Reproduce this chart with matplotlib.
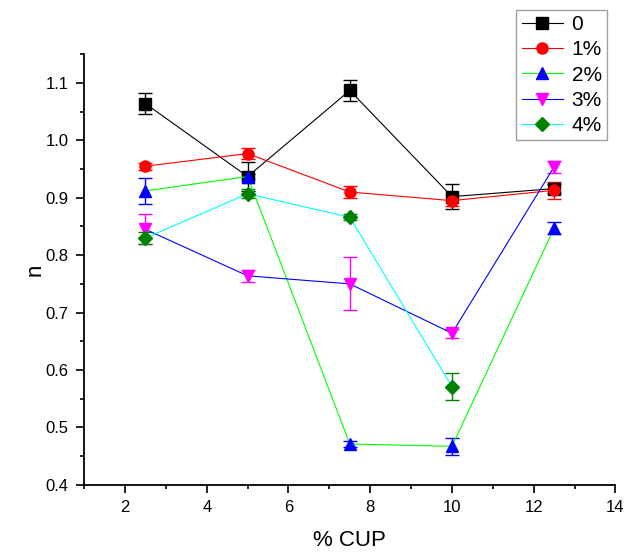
import matplotlib
matplotlib.use("Agg")
import matplotlib.pyplot as plt
from matplotlib.ticker import MultipleLocator

plt.rcParams["font.family"] = ["Liberation Sans", "DejaVu Sans"]

x = [2.5, 5, 7.5, 10, 12.5]
labels = ["0", "1%", "2%", "3%", "4%"]

n_0 = [1.064, 0.937, 1.087, 0.902, 0.916]
e_0 = [0.018, 0.025, 0.018, 0.022, 0.008]
n_1 = [0.955, 0.977, 0.910, 0.895, 0.913]
e_1 = [0.006, 0.010, 0.010, 0.010, 0.015]
n_2 = [0.912, 0.937, 0.471, 0.467, 0.847]
e_2 = [0.022, 0.005, 0.005, 0.015, 0.010]
n_3 = [0.845, 0.764, 0.750, 0.664, 0.954]
e_3 = [0.026, 0.010, 0.046, 0.008, 0.010]
x_4 = [2.5, 5, 7.5, 10]
n_4 = [0.830, 0.907, 0.866, 0.571]
e_4 = [0.010, 0.008, 0.005, 0.023]

series = [
    (x, n_0, e_0, "black", "black", "s"),
    (x, n_1, e_1, "red", "red", "o"),
    (x, n_2, e_2, "#00ff00", "blue", "^"),
    (x, n_3, e_3, "blue", "magenta", "v"),
    (x_4, n_4, e_4, "cyan", "green", "D"),
]

fig = plt.figure(figsize=(6.28, 5.54), dpi=100)
ax = fig.add_axes([0.134, 0.125, 0.846, 0.777])

handles = []
for (xs, ys, es, lc, mc, mk), lab in zip(series, labels):
    ax.errorbar(xs, ys, yerr=es, fmt="none", ecolor=mc, elinewidth=1.0,
                capsize=5, capthick=1.0, zorder=3)
    h, = ax.plot(xs, ys, color=lc, lw=0.8, marker=mk, ms=8 if mk != "D" else 7,
                 mfc=mc, mec=mc, label=lab, zorder=4)
    handles.append(h)

ax.set_xlim(1, 14)
ax.set_ylim(0.4, 1.15)
ax.xaxis.set_major_locator(MultipleLocator(2))
ax.xaxis.set_minor_locator(MultipleLocator(1))
ax.yaxis.set_minor_locator(MultipleLocator(0.05))
ax.set_yticks([0.4, 0.5, 0.6, 0.7, 0.8, 0.9, 1.0, 1.1])
ax.tick_params(which="major", direction="out", length=6, width=1.2, labelsize=12, pad=5)
ax.tick_params(which="minor", direction="out", length=3, width=1.2)
ax.spines["top"].set_visible(False)
ax.spines["right"].set_visible(False)
ax.spines["left"].set_linewidth(1.3)
ax.spines["bottom"].set_linewidth(1.3)

ax.set_xlabel("% CUP", fontsize=16, labelpad=11)
ax.set_ylabel("n", fontsize=16, labelpad=0)

leg = fig.legend(handles=handles, loc="upper right", bbox_to_anchor=(0.9666, 0.982),
                 borderaxespad=0, fontsize=15, frameon=True, fancybox=False,
                 edgecolor="#888888", handlelength=2.0, borderpad=0.25,
                 labelspacing=0.3, handletextpad=0.4)
leg.get_frame().set_linewidth(1.0)

fig.savefig("out.png", dpi=100)
